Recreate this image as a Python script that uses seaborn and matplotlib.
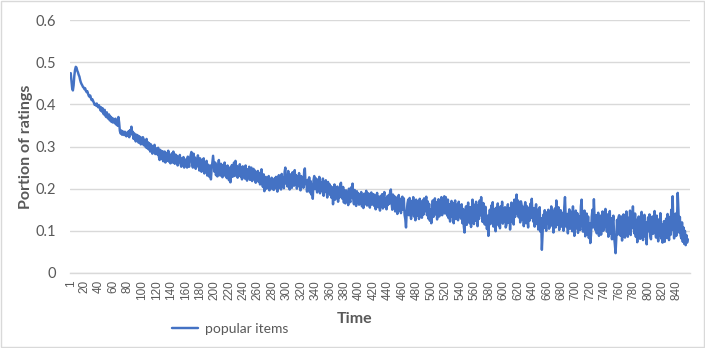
import numpy as np
import pandas as pd
import matplotlib
matplotlib.use("Agg")
import matplotlib.pyplot as plt
import seaborn as sns

# Portion of ratings going to popular items, one value per time step
portion = [
    0.474, 0.455, 0.438, 0.433, 0.445, 0.468, 0.482, 0.489, 0.487, 0.480, 0.476, 0.470, 0.466, 0.458, 0.452, 0.448, 0.445, 0.441, 0.440, 0.436,
    0.438, 0.432, 0.429, 0.431, 0.425, 0.420, 0.418, 0.421, 0.414, 0.410, 0.412, 0.408, 0.404, 0.399, 0.401, 0.397, 0.402, 0.396, 0.393, 0.398,
    0.394, 0.386, 0.393, 0.383, 0.391, 0.379, 0.376, 0.387, 0.373, 0.370, 0.381, 0.368, 0.366, 0.376, 0.362, 0.371, 0.359, 0.368, 0.357, 0.366,
    0.363, 0.355, 0.366, 0.352, 0.362, 0.349, 0.370, 0.357, 0.337, 0.331, 0.338, 0.328, 0.336, 0.329, 0.327, 0.335, 0.328, 0.324, 0.333, 0.326,
    0.336, 0.322, 0.339, 0.330, 0.347, 0.328, 0.335, 0.318, 0.331, 0.322, 0.312, 0.328, 0.315, 0.326, 0.309, 0.324, 0.317, 0.305, 0.321, 0.311,
    0.322, 0.303, 0.316, 0.309, 0.298, 0.318, 0.296, 0.310, 0.293, 0.307, 0.288, 0.305, 0.297, 0.283, 0.301, 0.290, 0.304, 0.282, 0.296, 0.287,
    0.281, 0.297, 0.276, 0.268, 0.292, 0.279, 0.270, 0.289, 0.265, 0.281, 0.288, 0.262, 0.277, 0.285, 0.266, 0.290, 0.264, 0.280, 0.260, 0.276,
    0.284, 0.262, 0.288, 0.270, 0.259, 0.281, 0.266, 0.278, 0.255, 0.274, 0.263, 0.280, 0.258, 0.252, 0.272, 0.256, 0.275, 0.250, 0.268, 0.257,
    0.270, 0.250, 0.276, 0.258, 0.252, 0.272, 0.280, 0.287, 0.261, 0.250, 0.283, 0.256, 0.274, 0.247, 0.270, 0.253, 0.279, 0.258, 0.243, 0.272,
    0.262, 0.240, 0.268, 0.247, 0.272, 0.236, 0.261, 0.242, 0.266, 0.231, 0.257, 0.238, 0.228, 0.255, 0.222, 0.246, 0.263, 0.278, 0.258, 0.240,
    0.262, 0.232, 0.256, 0.229, 0.253, 0.268, 0.238, 0.231, 0.259, 0.241, 0.227, 0.256, 0.235, 0.262, 0.230, 0.251, 0.225, 0.255, 0.234, 0.220,
    0.250, 0.215, 0.242, 0.256, 0.228, 0.248, 0.262, 0.230, 0.266, 0.235, 0.254, 0.226, 0.251, 0.232, 0.258, 0.229, 0.250, 0.222, 0.253, 0.231,
    0.249, 0.224, 0.255, 0.229, 0.219, 0.246, 0.227, 0.252, 0.221, 0.244, 0.250, 0.218, 0.241, 0.247, 0.222, 0.243, 0.214, 0.239, 0.220, 0.242,
    0.216, 0.237, 0.210, 0.232, 0.246, 0.212, 0.204, 0.234, 0.194, 0.221, 0.228, 0.200, 0.224, 0.204, 0.230, 0.196, 0.221, 0.202, 0.226, 0.199,
    0.219, 0.197, 0.224, 0.201, 0.228, 0.206, 0.193, 0.222, 0.232, 0.203, 0.225, 0.198, 0.235, 0.208, 0.227, 0.201, 0.240, 0.250, 0.212, 0.231,
    0.205, 0.242, 0.210, 0.198, 0.234, 0.213, 0.202, 0.239, 0.215, 0.207, 0.244, 0.211, 0.232, 0.200, 0.228, 0.206, 0.237, 0.210, 0.196, 0.230,
    0.207, 0.226, 0.202, 0.240, 0.248, 0.211, 0.217, 0.193, 0.221, 0.200, 0.227, 0.191, 0.218, 0.186, 0.211, 0.176, 0.220, 0.230, 0.199, 0.225,
    0.203, 0.191, 0.222, 0.197, 0.228, 0.189, 0.215, 0.207, 0.194, 0.224, 0.183, 0.213, 0.192, 0.220, 0.196, 0.179, 0.216, 0.190, 0.211, 0.185,
    0.206, 0.178, 0.203, 0.163, 0.198, 0.210, 0.174, 0.201, 0.181, 0.205, 0.169, 0.199, 0.179, 0.210, 0.214, 0.187, 0.176, 0.204, 0.167, 0.195,
    0.165, 0.196, 0.171, 0.191, 0.161, 0.200, 0.173, 0.168, 0.203, 0.179, 0.212, 0.175, 0.163, 0.197, 0.170, 0.159, 0.194, 0.167, 0.189, 0.162,
    0.186, 0.165, 0.192, 0.158, 0.182, 0.154, 0.188, 0.163, 0.184, 0.195, 0.160, 0.181, 0.189, 0.164, 0.155, 0.183, 0.191, 0.162, 0.180, 0.187,
    0.159, 0.184, 0.151, 0.178, 0.190, 0.156, 0.181, 0.162, 0.148, 0.183, 0.159, 0.187, 0.153, 0.179, 0.192, 0.157, 0.176, 0.151, 0.182, 0.161,
    0.185, 0.164, 0.192, 0.198, 0.167, 0.150, 0.186, 0.158, 0.182, 0.146, 0.152, 0.179, 0.140, 0.172, 0.185, 0.148, 0.176, 0.142, 0.169, 0.181,
    0.150, 0.177, 0.138, 0.128, 0.108, 0.146, 0.165, 0.174, 0.137, 0.178, 0.148, 0.128, 0.171, 0.141, 0.180, 0.134, 0.167, 0.125, 0.174, 0.144,
    0.136, 0.170, 0.128, 0.176, 0.142, 0.165, 0.131, 0.172, 0.138, 0.177, 0.146, 0.167, 0.181, 0.137, 0.170, 0.129, 0.164, 0.124, 0.150, 0.118,
    0.141, 0.172, 0.133, 0.165, 0.177, 0.139, 0.168, 0.127, 0.162, 0.175, 0.134, 0.167, 0.143, 0.180, 0.137, 0.171, 0.148, 0.182, 0.141, 0.180,
    0.166, 0.136, 0.174, 0.130, 0.163, 0.122, 0.157, 0.171, 0.133, 0.166, 0.118, 0.159, 0.172, 0.128, 0.162, 0.139, 0.125, 0.169, 0.134, 0.158,
    0.129, 0.163, 0.118, 0.152, 0.110, 0.096, 0.140, 0.158, 0.114, 0.150, 0.167, 0.125, 0.118, 0.156, 0.109, 0.145, 0.174, 0.133, 0.116, 0.162,
    0.124, 0.169, 0.131, 0.111, 0.161, 0.128, 0.172, 0.137, 0.180, 0.141, 0.121, 0.166, 0.132, 0.115, 0.157, 0.126, 0.104, 0.136, 0.088, 0.126,
    0.150, 0.116, 0.160, 0.121, 0.168, 0.110, 0.152, 0.125, 0.099, 0.155, 0.120, 0.165, 0.113, 0.149, 0.106, 0.158, 0.122, 0.169, 0.117, 0.153,
    0.123, 0.156, 0.108, 0.114, 0.148, 0.163, 0.119, 0.154, 0.103, 0.145, 0.167, 0.121, 0.157, 0.115, 0.174, 0.133, 0.165, 0.186, 0.140, 0.172,
    0.132, 0.166, 0.120, 0.170, 0.161, 0.127, 0.157, 0.111, 0.153, 0.168, 0.118, 0.159, 0.129, 0.108, 0.155, 0.124, 0.164, 0.131, 0.176, 0.140,
    0.122, 0.154, 0.110, 0.146, 0.163, 0.116, 0.150, 0.103, 0.143, 0.156, 0.098, 0.130, 0.055, 0.092, 0.138, 0.107, 0.149, 0.115, 0.100, 0.144,
    0.118, 0.150, 0.105, 0.141, 0.111, 0.158, 0.117, 0.147, 0.096, 0.139, 0.153, 0.108, 0.172, 0.126, 0.114, 0.156, 0.102, 0.138, 0.149, 0.110,
    0.143, 0.116, 0.100, 0.156, 0.180, 0.130, 0.109, 0.140, 0.094, 0.136, 0.151, 0.105, 0.133, 0.145, 0.099, 0.158, 0.120, 0.088, 0.130, 0.148,
    0.106, 0.142, 0.095, 0.135, 0.108, 0.102, 0.158, 0.174, 0.121, 0.098, 0.132, 0.148, 0.087, 0.127, 0.141, 0.092, 0.134, 0.083, 0.118, 0.071,
    0.090, 0.134, 0.150, 0.108, 0.175, 0.127, 0.102, 0.137, 0.094, 0.129, 0.143, 0.088, 0.123, 0.136, 0.091, 0.131, 0.146, 0.100, 0.140, 0.109,
    0.152, 0.114, 0.098, 0.139, 0.086, 0.125, 0.147, 0.093, 0.130, 0.080, 0.120, 0.136, 0.085, 0.068, 0.047, 0.082, 0.126, 0.091, 0.132, 0.137,
    0.102, 0.088, 0.134, 0.077, 0.122, 0.139, 0.092, 0.084, 0.128, 0.146, 0.098, 0.086, 0.131, 0.100, 0.148, 0.090, 0.137, 0.107, 0.158, 0.111,
    0.094, 0.141, 0.086, 0.126, 0.073, 0.117, 0.134, 0.090, 0.081, 0.130, 0.145, 0.095, 0.078, 0.123, 0.138, 0.086, 0.120, 0.068, 0.110, 0.132,
    0.099, 0.139, 0.088, 0.080, 0.125, 0.134, 0.093, 0.128, 0.147, 0.102, 0.084, 0.136, 0.096, 0.075, 0.127, 0.089, 0.142, 0.082, 0.116, 0.072,
    0.086, 0.123, 0.074, 0.112, 0.129, 0.083, 0.140, 0.100, 0.078, 0.133, 0.090, 0.150, 0.103, 0.182, 0.112, 0.082, 0.116, 0.141, 0.088, 0.125,
    0.190, 0.148, 0.096, 0.133, 0.089, 0.082, 0.120, 0.074, 0.108, 0.069, 0.100, 0.066, 0.090, 0.072, 0.080,
]
time = np.arange(1, len(portion) + 1)

x_ticks = [1] + list(range(20, 841, 20))
y_ticks = [0, 0.1, 0.2, 0.3, 0.4, 0.5, 0.6]

df = pd.DataFrame({"Time": time, "Portion of ratings": portion})

sns.set_theme(style="white")
plt.rcParams['font.family'] = ['Lato', 'DejaVu Sans']

text_grey = '#595959'
grid_grey = '#d9d9d9'
blue = '#4472C4'

fig = plt.figure(figsize=(7.05, 3.48), dpi=100)
ax = fig.add_axes([70 / 705, 1 - 273 / 348, 620 / 705, 253 / 348])

sns.lineplot(data=df, x="Time", y="Portion of ratings", ax=ax,
             color=blue, linewidth=1.75, label='popular items')

ax.set_xlim(0, 858)
ax.set_ylim(0, 0.6)
ax.set_yticks(y_ticks)
ax.set_yticklabels([f'{v:g}' for v in y_ticks], fontsize=10.5, color=text_grey)
ax.set_xticks(x_ticks)
ax.set_xticklabels([str(t) for t in x_ticks], rotation=90, fontsize=8.5,
                   color=text_grey, family=['Liberation Sans', 'DejaVu Sans'])
ax.tick_params(axis='both', length=0)
ax.tick_params(axis='y', pad=10)
ax.tick_params(axis='x', pad=5)

# horizontal gridlines only, Excel style
ax.grid(axis='y', color=grid_grey, linewidth=1)
ax.grid(axis='x', visible=False)
for side in ['top', 'right', 'left']:
    ax.spines[side].set_visible(False)
ax.spines['bottom'].set_color(grid_grey)
ax.spines['bottom'].set_linewidth(1)

ax.set_xlabel('Time', fontsize=11.5, fontweight='bold', color=text_grey)
ax.xaxis.set_label_coords((355 - 70) / 620, -(312 - 273) / 253)
ax.set_ylabel('Portion of ratings', fontsize=11.5, fontweight='bold', color=text_grey)
ax.yaxis.set_label_coords(-(70 - 33) / 620, 0.5)

# legend below the plot, on the left
ax.get_legend().remove()
fig.legend(loc='center left', bbox_to_anchor=(172 / 705, 1 - 329 / 348),
           frameon=False, fontsize=10, handlelength=1.9, handletextpad=0.45,
           borderpad=0, borderaxespad=0, labelcolor=text_grey)

# light chart border
fig.patches.append(plt.Rectangle((0.001, 0.002), 0.997, 0.995, transform=fig.transFigure,
                                 fill=False, edgecolor=grid_grey, linewidth=1))

fig.savefig('out.png', dpi=100)
